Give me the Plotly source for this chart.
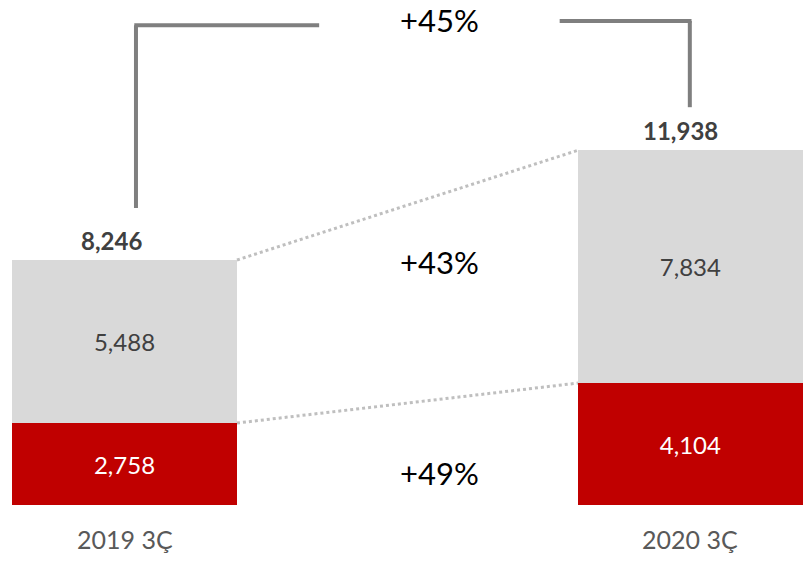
import plotly.graph_objects as go

categories = ["2019 3Ç", "2020 3Ç"]
red_values = [2758, 4104]
gray_values = [5488, 7834]
totals = [a + b for a, b in zip(red_values, gray_values)]

RED = "#c00000"
GRAY = "#d9d9d9"
FONT = "Lato"

bar_w = 0.3975
xpos = [0, 1]

fig = go.Figure()
fig.add_trace(go.Bar(
    x=xpos, y=red_values, width=bar_w, marker=dict(color=RED, line=dict(width=0)),
    text=[f"{v:,}" for v in red_values], textposition="inside", insidetextanchor="middle",
    textfont=dict(family=FONT, size=24, color="white"), hoverinfo="skip",
))
fig.add_trace(go.Bar(
    x=xpos, y=gray_values, width=bar_w, marker=dict(color=GRAY, line=dict(width=0)),
    text=[f"{v:,}" for v in gray_values], textposition="inside", insidetextanchor="middle",
    textfont=dict(family=FONT, size=24, color="#404040"), hoverinfo="skip",
))

shapes = []
# dotted connectors between bar tops
for y0, y1 in [(totals[0], totals[1]), (red_values[0], red_values[1])]:
    shapes.append(dict(type="line", xref="x", yref="y",
                       x0=xpos[0] + bar_w / 2, y0=y0, x1=xpos[1] - bar_w / 2, y1=y1,
                       line=dict(color="#bfbfbf", width=3, dash="dot")))

# bracket for total change
bl_x = 0.0203
br_x = 0.999
top_l = 16150
top_r = 16290
shapes += [
    dict(type="line", xref="x", yref="y", x0=bl_x, x1=bl_x, y0=totals[0] + 1750, y1=top_l,
         line=dict(color="#7f7f7f", width=4)),
    dict(type="line", xref="x", yref="y", x0=bl_x - 0.003, x1=0.344, y0=top_l, y1=top_l,
         line=dict(color="#7f7f7f", width=4)),
    dict(type="line", xref="x", yref="y", x0=0.769, x1=br_x + 0.003, y0=top_r, y1=top_r,
         line=dict(color="#7f7f7f", width=4)),
    dict(type="line", xref="x", yref="y", x0=br_x, x1=br_x, y0=top_r, y1=totals[1] + 1450,
         line=dict(color="#7f7f7f", width=4)),
]

def pct(a, b):
    return f"+{round((b / a - 1) * 100):d}%"

annotations = []
for x, t, xs in zip(xpos, totals, [-13, -10]):
    annotations.append(dict(x=x, y=t, xref="x", yref="y", text=f"<b>{t:,}</b>",
                            showarrow=False, yanchor="bottom", yshift=3, xshift=xs,
                            font=dict(family=FONT, size=24, color="#404040")))
for x, c in zip(xpos, categories):
    annotations.append(dict(x=x, y=0, xref="x", yref="y", text=c, showarrow=False,
                            yanchor="top", yshift=-17,
                            font=dict(family=FONT, size=25, color="#595959")))
pct_labels = [pct(totals[0], totals[1]), pct(gray_values[0], gray_values[1]),
              pct(red_values[0], red_values[1])]
# top label sits against the top edge of the figure
annotations.append(dict(x=0.557, y=1, xref="x", yref="paper", text=pct_labels[0],
                        showarrow=False, yanchor="top", borderpad=0,
                        font=dict(family=FONT, size=31, color="black")))
for lab, yy in zip(pct_labels[1:], [8178, 1077]):
    annotations.append(dict(x=0.557, y=yy, xref="x", yref="y", text=lab, showarrow=False,
                            yanchor="middle", font=dict(family=FONT, size=31, color="black")))

fig.update_layout(
    width=803, height=564, barmode="stack", showlegend=False,
    margin=dict(l=0, r=0, t=0, b=59),
    plot_bgcolor="white", paper_bgcolor="white",
    xaxis=dict(range=[-0.22, 1.199], showgrid=False, zeroline=False, showticklabels=False,
               showline=False, fixedrange=True),
    yaxis=dict(range=[0, 16996], showgrid=False, zeroline=False, showticklabels=False,
               showline=False, fixedrange=True),
    shapes=shapes, annotations=annotations,
    uniformtext=dict(minsize=8, mode="show"),
)
fig.write_html("out.html", config={"displayModeBar": False},
               post_script="document.body.style.margin='0';document.body.style.overflow='hidden';")
